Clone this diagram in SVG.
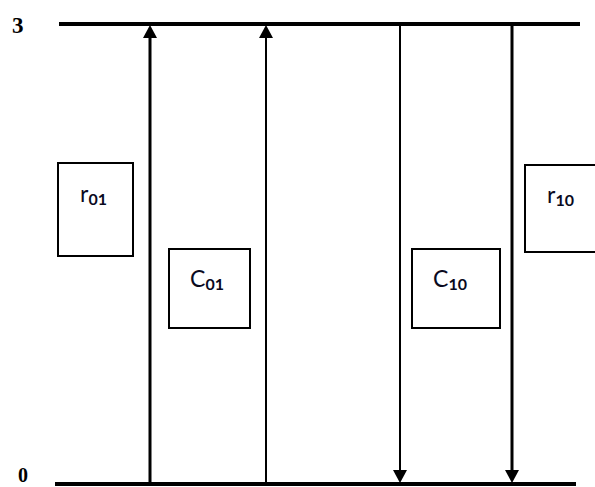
<svg xmlns="http://www.w3.org/2000/svg" width="595" height="487" viewBox="0 0 595 487">
<style>
.lvl{stroke:#000;stroke-width:4}
.num{font-family:"Liberation Serif",serif;font-weight:bold;fill:#000}
.box{fill:#fff;stroke:#000;stroke-width:2}
.lab{font-family:Lato,"Open Sans",sans-serif;font-size:23px;fill:#0a0a1e}
.sub{font-size:16px;font-weight:bold}
.thick{stroke:#000;stroke-width:3}
.thin{stroke:#000;stroke-width:2}
.head{fill:#000}
</style>
<rect width="595" height="487" fill="#fff"/>
<g id="levels">
<line class="lvl" x1="59" y1="24" x2="580" y2="24"/>
<line class="lvl" x1="55" y1="484" x2="576" y2="484"/>
<text class="num" x="12" y="33" font-size="23">3</text>
<text class="num" x="18" y="482" font-size="20">0</text>
</g>
<g id="connectors">
<line class="thick" x1="150" y1="484" x2="150" y2="36"/>
<polygon class="head" points="143,38 157,38 150,25"/>
<line class="thin" x1="266" y1="484" x2="266" y2="36"/>
<polygon class="head" points="259,38 273,38 266,25"/>
<line class="thin" x1="400" y1="24" x2="400" y2="472"/>
<polygon class="head" points="393,470 407,470 400,483"/>
<line class="thick" x1="512" y1="24" x2="512" y2="472"/>
<polygon class="head" points="505,470 519,470 512,483"/>
</g>
<g id="r01">
<rect class="box" x="58" y="163" width="75" height="93"/>
<text class="lab" x="80" y="202">r<tspan class="sub" dy="3">01</tspan></text>
</g>
<g id="C01">
<rect class="box" x="169" y="249" width="81" height="79"/>
<text class="lab" x="190" y="287">C<tspan class="sub" dy="3">01</tspan></text>
</g>
<g id="C10">
<rect class="box" x="412" y="249" width="88" height="79"/>
<text class="lab" x="433" y="287">C<tspan class="sub" dy="3">10</tspan></text>
</g>
<g id="r10">
<rect class="box" x="525" y="165" width="80" height="87"/>
<text class="lab" x="547" y="203">r<tspan class="sub" dy="3">10</tspan></text>
</g>
</svg>
